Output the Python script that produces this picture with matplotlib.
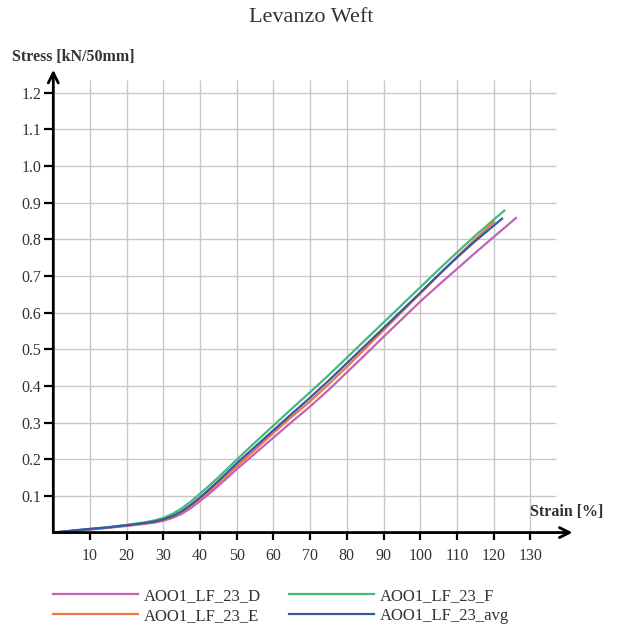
import numpy as np
import matplotlib.pyplot as plt
from matplotlib.lines import Line2D

# Curvas tensión-deformación (trama)
strain_d = [0, 5, 10, 15, 20, 25, 27.5, 30, 32.5, 35, 37.5, 40, 42.5, 45, 47.5, 50, 55, 60, 65, 70, 75,
            80, 85, 90, 95, 100, 105, 110, 115, 120, 126.1]
stress_d = [0, 0.004, 0.008, 0.013, 0.018, 0.024, 0.027, 0.032, 0.040, 0.051, 0.067, 0.086, 0.106, 0.128,
            0.150, 0.173, 0.216, 0.259, 0.302, 0.344, 0.389, 0.437, 0.485, 0.534, 0.582, 0.630, 0.675,
            0.719, 0.763, 0.806, 0.858]

strain_e = [0, 5, 10, 15, 20, 25, 27.5, 30, 32.5, 35, 37.5, 40, 42.5, 45, 47.5, 50, 55, 60, 65, 70, 75,
            80, 85, 90, 95, 100, 105, 110, 115, 120.1]
stress_e = [0, 0.005, 0.009, 0.014, 0.019, 0.025, 0.029, 0.034, 0.043, 0.055, 0.072, 0.092, 0.113, 0.136,
            0.158, 0.181, 0.226, 0.272, 0.316, 0.358, 0.404, 0.452, 0.502, 0.552, 0.602, 0.652, 0.702,
            0.752, 0.800, 0.847]

strain_f = [0, 5, 10, 15, 20, 25, 27.5, 30, 32.5, 35, 37.5, 40, 42.5, 45, 47.5, 50, 55, 60, 65, 70, 75,
            80, 85, 90, 95, 100, 105, 110, 115, 122.9]
stress_f = [0, 0.005, 0.010, 0.015, 0.021, 0.028, 0.033, 0.040, 0.051, 0.066, 0.085, 0.106, 0.128, 0.151,
            0.175, 0.199, 0.246, 0.292, 0.338, 0.383, 0.429, 0.477, 0.525, 0.573, 0.621, 0.669, 0.717,
            0.764, 0.810, 0.878]

strain_avg = [0, 5, 10, 15, 20, 25, 27.5, 30, 32.5, 35, 37.5, 40, 42.5, 45, 47.5, 50, 55, 60, 65, 70, 75,
              80, 85, 90, 95, 100, 105, 110, 115, 122.3]
stress_avg = [0, 0.005, 0.010, 0.014, 0.020, 0.026, 0.030, 0.036, 0.045, 0.058, 0.076, 0.096, 0.118, 0.141,
              0.165, 0.189, 0.234, 0.279, 0.324, 0.368, 0.414, 0.462, 0.510, 0.558, 0.606, 0.654, 0.703,
              0.750, 0.795, 0.856]

series = [
    ('AOO1_LF_23_D', strain_d, stress_d, '#c462b6'),
    ('AOO1_LF_23_E', strain_e, stress_e, '#f07444'),
    ('AOO1_LF_23_F', strain_f, stress_f, '#45b87c'),
    ('AOO1_LF_23_avg', strain_avg, stress_avg, '#3656a8'),
]

x_ticks = list(range(10, 140, 10))
y_ticks = [round(0.1 * i, 1) for i in range(1, 13)]

plt.rcParams['font.family'] = ['Liberation Serif', 'DejaVu Serif']
fig = plt.figure(figsize=(6.17, 6.31), dpi=100)
ax = fig.add_axes([0.0864, 0.156, 0.8445, 0.738])
ax.set_xlim(0, 142)
ax.set_ylim(0, 1.27)
for s in ax.spines.values():
    s.set_visible(False)

# rejilla
ax.vlines(x_ticks, 0, 1.234, color='#c8c8c8', lw=1, zorder=1)
ax.hlines(y_ticks, 0, 137, color='#c8c8c8', lw=1, zorder=1)

for name, x, y, c in series:
    ax.plot(x, y, color=c, lw=1.6, label=name, zorder=3)

# ejes con flecha
arrow = dict(arrowstyle='->', lw=2, color='black', mutation_scale=18, shrinkA=0, shrinkB=0)
ax.annotate('', xy=(141.5, 0), xytext=(0, 0), arrowprops=arrow, annotation_clip=False, zorder=4)
ax.annotate('', xy=(0, 1.262), xytext=(0, 0), arrowprops=arrow, annotation_clip=False, zorder=4)

ax.set_xticks(x_ticks)
ax.set_xticklabels([str(t) for t in x_ticks])
ax.set_yticks(y_ticks)
ax.set_yticklabels([f'{t:.1f}' for t in y_ticks])
ax.tick_params(axis='both', direction='out', width=1.6, color='black',
               labelsize=11.5, labelcolor='#333333')
ax.tick_params(axis='x', length=5, pad=6)
ax.tick_params(axis='y', length=6.5, pad=2)

fig.text(12 / 617, 1 - 57 / 631, 'Stress [kN/50mm]', fontsize=11.5, fontweight='bold',
         color='#333333', ha='left', va='center')
fig.text(530 / 617, 1 - 512 / 631, 'Strain [%]', fontsize=11.5, fontweight='bold',
         color='#333333', ha='left', va='center')
fig.text(311 / 617, 1 - 18 / 631, 'Levanzo Weft', fontsize=16, color='#333333',
         ha='center', va='center')

handles = [Line2D([], [], color=c, lw=1.6) for _, _, _, c in series]
labels = [n for n, _, _, _ in series]
fig.legend(handles, labels, ncol=2, loc='upper left', bbox_to_anchor=(53 / 617, 0.068),
           frameon=False, fontsize=12, handlelength=5.1, handletextpad=0.36,
           columnspacing=1.68, labelcolor='#333333', labelspacing=0.25,
           borderpad=0, borderaxespad=0)

fig.savefig('out.png', dpi=100)
